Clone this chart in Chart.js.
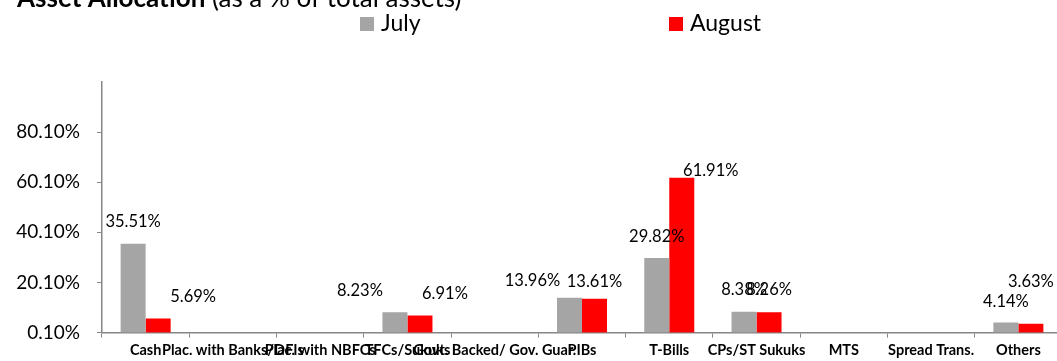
<!DOCTYPE html>
<html>
<head>
<meta charset="utf-8">
<script src="https://cdn.jsdelivr.net/npm/chart.js@4.4.1/dist/chart.umd.min.js"></script>
<style>
  html, body { margin: 0; padding: 0; overflow: hidden; background: #fff; }
  #wrap { position: relative; width: 1062px; height: 361px; }
</style>
</head>
<body>
<div id="wrap"><canvas id="AllocChart"></canvas></div>
<script>
const categories = ["Cash", "Plac. with Banks/DFIs", "Plac. with NBFCs", "TFCs/Sukuks",
  "Govt. Backed/ Gov. Guar.", "PIBs", "T-Bills", "CPs/ST Sukuks", "MTS", "Spread Trans.", "Others"];
const july   = [35.51, 0, 0, 8.23, 0, 13.96, 29.82, 8.38, 0, 0, 4.14];
const august = [5.69, 0, 0, 6.91, 0, 13.61, 61.91, 8.26, 0, 0, 3.63];
const yTicks = [0.1, 20.1, 40.1, 60.1, 80.1, 100.1];

// label nudges [dx, dy] from the top centre of each bar
const julyNudge   = [[0,-22],null,null,[-35,-22],null,[-37,-17],[0,-21],[0,-22],null,null,[0,-21]];
const augustNudge = [[35,-22],null,null,[25,-22],null,[0,-17],[29,-7],[0,-22],null,null,[0,-42]];

const FONT = "Lato, 'Open Sans', sans-serif";
const axisGrey = "#868686";

// heading, partly cut by the top edge
const headingPlugin = {
  id: "heading",
  afterDraw(chart) {
    const c = chart.ctx;
    c.save();
    c.fillStyle = "#000";
    c.textBaseline = "alphabetic";
    c.textAlign = "left";
    c.font = "bold 26px " + FONT;
    c.fillText("Asset Allocation", 17, 7);
    let w = c.measureText("Asset Allocation").width;
    c.font = "26px " + FONT;
    c.fillText(" (as a % of total assets)", 17 + w, 7);
    c.restore();
  }
};

// two legend entries spread over the top
const legendPlugin = {
  id: "spreadLegend",
  afterDraw(chart) {
    const c = chart.ctx;
    const xs = [360, 669];
    c.save();
    c.font = "23px " + FONT;
    c.textBaseline = "alphabetic";
    c.textAlign = "left";
    chart.data.datasets.forEach(function (ds, i) {
      c.fillStyle = ds.backgroundColor;
      c.fillRect(xs[i], 17, 14, 14);
      c.fillStyle = "#000";
      c.fillText(ds.label, xs[i] + 21, 31);
    });
    c.restore();
  }
};

// value labels over the bars
const valueLabels = {
  id: "valueLabels",
  afterDatasetsDraw(chart) {
    const c = chart.ctx;
    const nudges = [julyNudge, augustNudge];
    c.save();
    c.font = "16.5px " + FONT;
    c.fillStyle = "#000";
    c.textAlign = "center";
    c.textBaseline = "middle";
    chart.data.datasets.forEach(function (ds, i) {
      const meta = chart.getDatasetMeta(i);
      meta.data.forEach(function (bar, j) {
        const v = ds.data[j];
        const n = nudges[i][j];
        if (!v || !n) return;
        c.fillText(v.toFixed(2) + "%", bar.x + n[0], bar.y + n[1]);
      });
    });
    c.restore();
  }
};

new Chart(document.getElementById("AllocChart"), {
  type: "bar",
  data: {
    labels: categories,
    datasets: [
      { label: "July", data: july, backgroundColor: "#A5A5A5", borderWidth: 0 },
      { label: "August", data: august, backgroundColor: "#FF0000", borderWidth: 0 },
    ],
  },
  options: {
    responsive: true,
    maintainAspectRatio: false,
    animation: false,
    datasets: { bar: { categoryPercentage: 0.573, barPercentage: 1 } },
    layout: { padding: { top: 82, left: 0, right: 0, bottom: 0 } },
    plugins: {
      legend: { display: false },
      title: { display: false },
      tooltip: { enabled: false },
    },
    scales: {
      x: {
        afterFit(scale) { scale.height = 28; },
        border: { display: true, color: axisGrey, width: 1.5 },
        grid: { display: true, drawOnChartArea: false, drawTicks: true, tickLength: 5, color: axisGrey, offset: true },
        ticks: {
          autoSkip: false,
          maxRotation: 0,
          minRotation: 0,
          padding: 4,
          color: "#000",
          font: { family: FONT, size: 14.5, weight: "bold" },
        },
      },
      y: {
        min: yTicks[0],
        max: yTicks[yTicks.length - 1],
        afterFit(scale) { scale.width = 102; },
        afterBuildTicks(scale) { scale.ticks = yTicks.map(function (v) { return { value: v }; }); },
        border: { display: true, color: axisGrey, width: 1.5 },
        grid: {
          display: true,
          drawOnChartArea: false,
          drawTicks: true,
          tickLength: 5,
          color: function (ctx) { return ctx.tick && ctx.tick.value > 100 ? "rgba(0,0,0,0)" : axisGrey; },
        },
        ticks: {
          padding: 17,
          color: "#000",
          font: { family: FONT, size: 19 },
          callback: function (v) { return v > 100 ? "" : v.toFixed(2) + "%"; },
        },
      },
    },
  },
  plugins: [headingPlugin, legendPlugin, valueLabels],
});
</script>
</body>
</html>
